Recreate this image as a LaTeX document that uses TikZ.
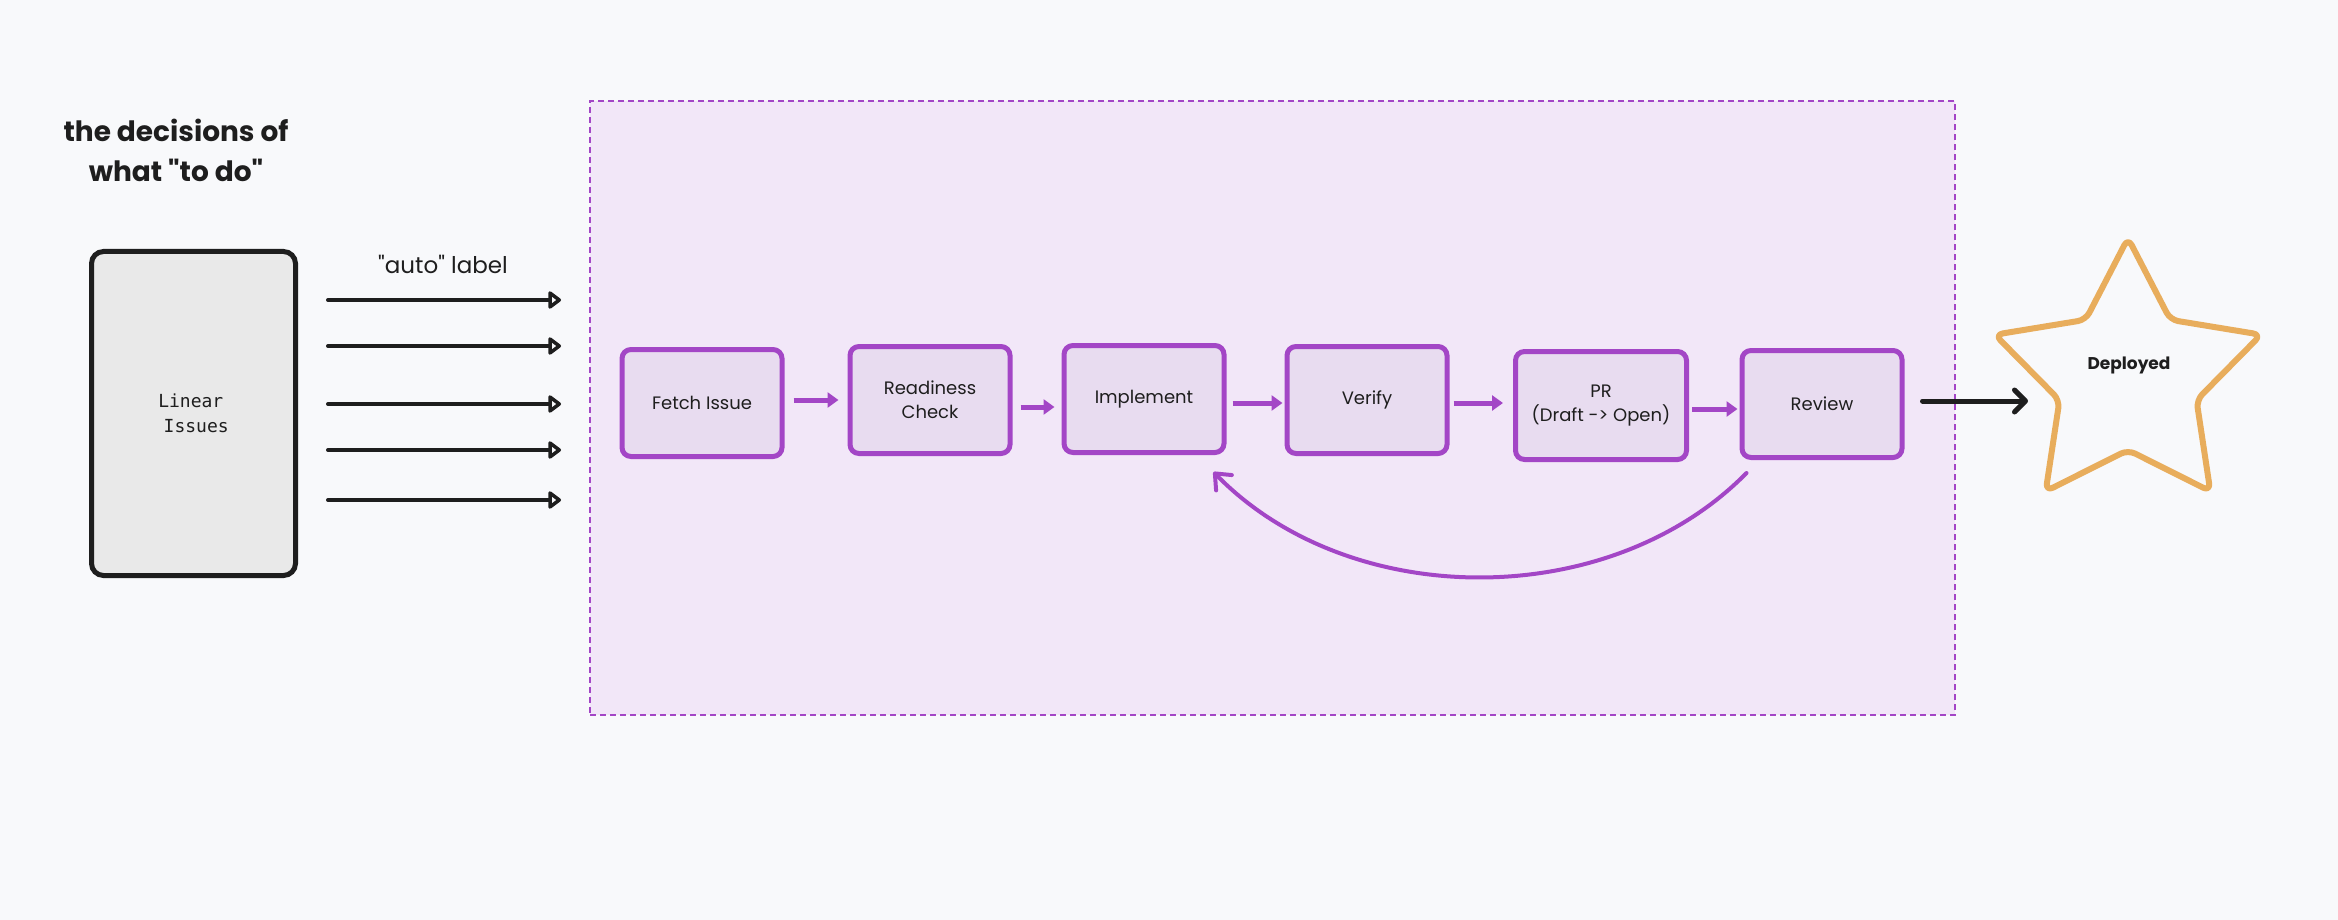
\documentclass[tikz,border=0pt]{standalone}
\usepackage{fontspec}
\setmainfont{Poppins}[Ligatures=TeXOff]
\newfontfamily\monof{DejaVu Sans Mono}
\usetikzlibrary{arrows.meta,calc}
\definecolor{bg}{HTML}{F8F9FB}
\definecolor{ink}{HTML}{1E1E1E}
\definecolor{vio}{HTML}{A346C6}
\definecolor{viofill}{HTML}{E8DCF0}
\definecolor{zone}{HTML}{F2E7F8}
\definecolor{greyfill}{HTML}{E9E9E9}
\definecolor{gold}{HTML}{E8AD5C}
\begin{document}
\begin{tikzpicture}[x=1pt,y=-1pt,
  stepbox/.style={draw=vio, fill=viofill, line width=5pt, rounded corners=9pt,
    minimum width=160pt, minimum height=107pt, inner sep=0pt, align=center,
    font=\fontsize{18}{24}\selectfont, text=ink},
  flow/.style={draw=vio, line width=5pt, -{Triangle[length=11pt,width=15pt]}},
  feed/.style={draw=vio, line width=4pt, line cap=round, -{Straight Barb[length=13pt,width=22pt,round]}},
  inarrow/.style={draw=ink, line width=4pt, line cap=round, -{Triangle[open,length=14pt,width=20pt,round]}},
  outarrow/.style={draw=ink, line width=5pt, line cap=round, -{Straight Barb[length=11pt,width=22pt,round]}},
  zonebox/.style={draw=vio, fill=zone, line width=2pt, dash pattern=on 6pt off 4pt,
    minimum width=1365pt, minimum height=614pt, inner sep=0pt},
  srcbox/.style={draw=ink, fill=greyfill, line width=5pt, rounded corners=12pt,
    minimum width=204pt, minimum height=324pt, inner sep=0pt, align=left,
    font=\monof\fontsize{18}{25}\selectfont, text=ink},
  note/.style={text=ink, align=center, inner sep=0pt}
]
\useasboundingbox[fill=bg] (0,0) rectangle (2338,920);

% title
\node[note, font=\bfseries\fontsize{28}{40}\selectfont] (title) at (176,150) {the decisions of\\what "to do"};

% container
\node[zonebox] (frame) at (1272.5,408) {};

% source box
\node[srcbox] (linear) at (193.5,413.5) {Linear\\\hspace*{5.4pt}Issues};
\node[note, font=\fontsize{23}{28}\selectfont] (auto) at (443,264) {"auto" label};

\foreach \yy in {300,346,404,450,500}{
  \draw[inarrow, shorten <=30pt, shorten >=28pt] (linear.east |- 0,\yy) -- (frame.west |- 0,\yy);
}

% steps
\node[stepbox] (fetch) at (702,403) {Fetch Issue};
\node[stepbox] (ready) at (930,400) {Readiness\\Check};
\node[stepbox] (impl) at (1144,399) {Implement};
\node[stepbox] (verify) at (1367,400) {Verify};
\node[stepbox, minimum width=171pt, minimum height=108pt] (pr) at (1601,405.5) {PR\\(Draft -> Open)};
\node[stepbox] (review) at (1822,404) {Review};

\draw[flow, shorten <=9pt, shorten >=9pt] (fetch.east |- 0,400) -- (ready.west |- 0,400);
\draw[flow, shorten <=8pt, shorten >=7pt] (ready.east |- 0,407) -- (impl.west |- 0,407);
\draw[flow, shorten <=6pt, shorten >=2pt] (impl.east |- 0,403) -- (verify.west |- 0,403);
\draw[flow, shorten <=4pt, shorten >=10pt] (verify.east |- 0,403) -- (pr.west |- 0,403);
\draw[flow, shorten <=3pt, shorten >=2pt] (pr.east |- 0,409) -- (review.west |- 0,409);

\draw[feed] ($(review.south west)+(7,13)$) .. controls (1610,612) and (1350,612) .. ($(impl.south east)+(-13,17)$);

% star
\draw[draw=gold, line width=6pt, rounded corners=8pt, line join=round, fill=bg]
  (2128,238) -- (2170.3,319.8) -- (2261.1,334.7) -- (2196.5,400.2) -- (2210.3,491.3)
  -- (2128,450) -- (2045.7,491.3) -- (2059.5,400.2) -- (1994.9,334.7) -- (2085.7,319.8) -- cycle;
\node[note, font=\bfseries\fontsize{17}{20}\selectfont] (dep) at (2129,365) {Deployed};
\coordinate (depin) at (2028,401);
\draw[outarrow, shorten <=18pt] (review.east |- 0,401) -- (depin);
\end{tikzpicture}
\end{document}
